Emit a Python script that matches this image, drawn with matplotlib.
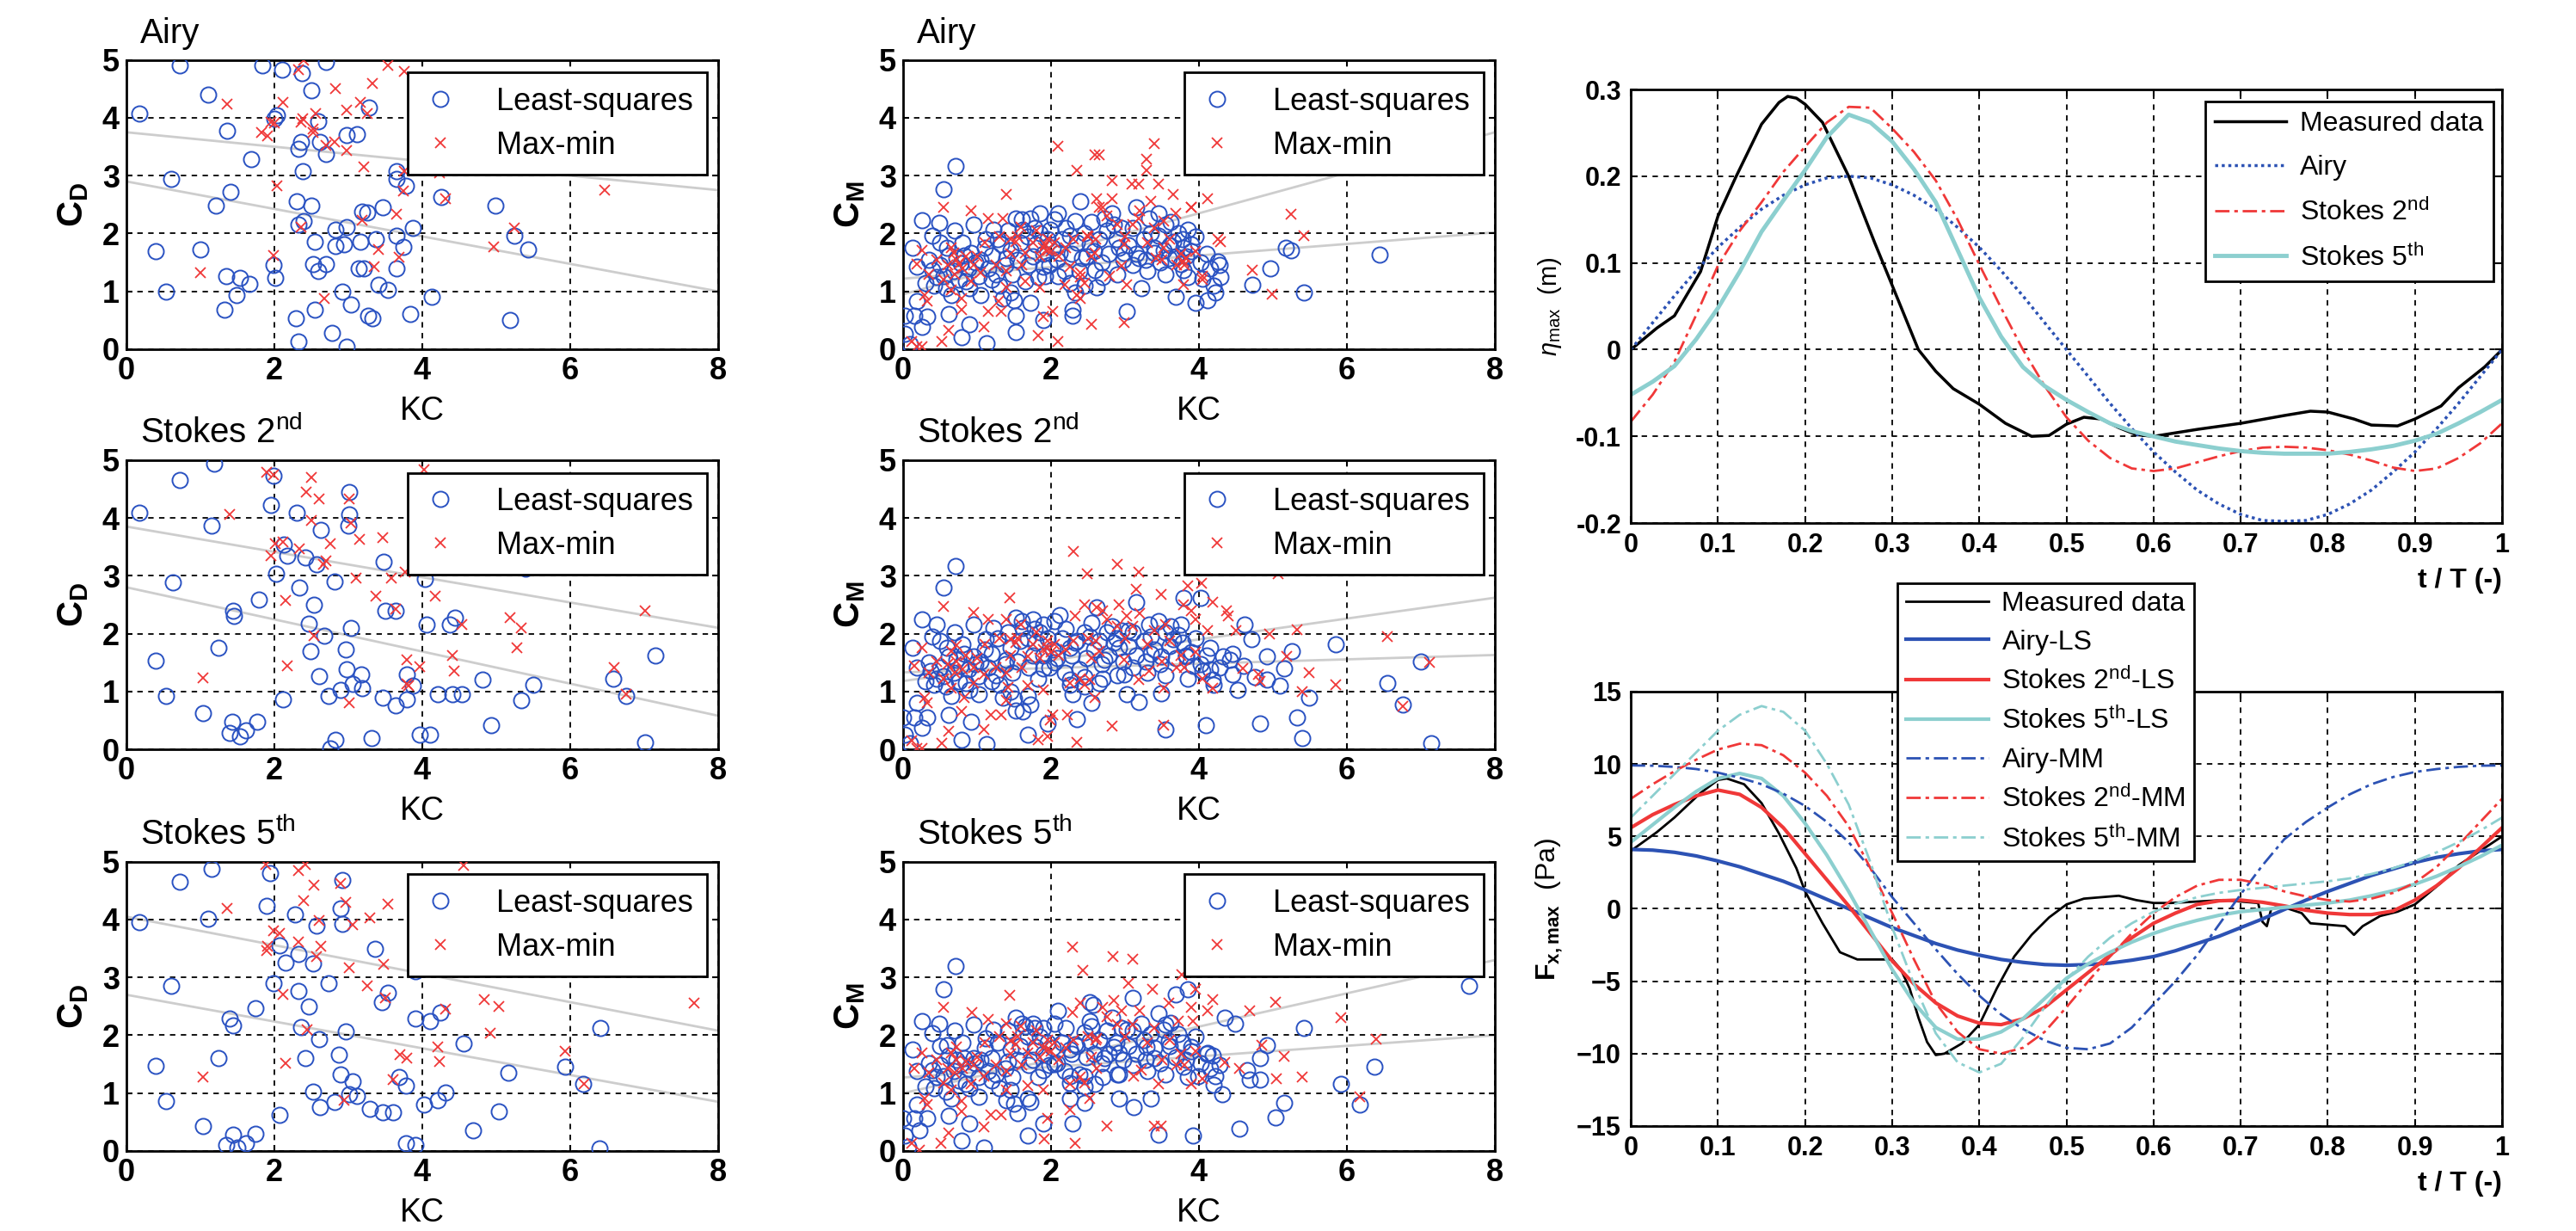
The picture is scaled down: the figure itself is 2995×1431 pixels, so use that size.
import numpy as np
import matplotlib
matplotlib.use("Agg")
import matplotlib.pyplot as plt

plt.rcParams['font.family'] = ['Liberation Sans', 'DejaVu Sans']
plt.rcParams['mathtext.fontset'] = 'custom'
plt.rcParams['mathtext.rm'] = 'Liberation Sans'
plt.rcParams['mathtext.it'] = 'Liberation Sans:italic'
plt.rcParams['mathtext.bf'] = 'Liberation Sans:bold'

# ---------------------------------------------------------------- scatter data
# (KC, coefficient) pairs

CD_AIRY_LS = [(0.17, 4.07), (0.72, 4.90), (1.10, 4.40), (1.36, 3.77), (1.69, 3.28), (0.60, 2.95),
              (1.41, 2.72), (1.21, 2.49), (0.40, 1.69), (1.00, 1.73), (0.53, 1.00), (1.35, 1.26),
              (1.53, 1.23), (1.66, 1.13), (1.49, 0.93), (1.33, 0.69), (1.84, 4.90), (2.10, 4.83),
              (2.37, 4.77), (2.50, 4.47), (2.70, 4.97), (2.04, 4.04), (2.00, 3.98), (2.59, 3.94),
              (2.32, 3.47), (2.36, 3.59), (2.62, 3.59), (2.70, 3.37), (2.98, 3.70), (3.12, 3.71),
              (3.28, 4.18), (2.38, 3.07), (2.30, 2.55), (2.50, 2.48), (2.32, 2.16), (2.40, 2.21),
              (2.55, 1.86), (2.83, 2.06), (2.98, 2.11), (2.83, 1.79), (2.94, 1.81), (3.16, 1.86),
              (3.37, 1.91), (3.19, 2.38), (3.25, 2.36), (3.46, 2.46), (3.65, 1.96), (3.87, 2.09),
              (3.74, 1.77), (2.52, 1.47), (2.70, 1.47), (2.59, 1.35), (3.14, 1.40), (3.21, 1.40),
              (3.65, 1.40), (1.99, 1.45), (2.01, 1.23), (2.92, 1.00), (3.04, 0.77), (3.41, 1.12),
              (3.54, 1.03), (2.55, 0.69), (2.29, 0.53), (3.27, 0.58), (3.33, 0.53), (3.84, 0.61),
              (2.78, 0.28), (2.32, 0.14), (2.98, 0.04), (3.65, 3.07), (3.65, 2.95), (3.78, 2.83),
              (4.13, 0.90), (4.26, 2.63), (4.99, 2.48), (5.24, 1.96), (5.43, 1.72), (5.18, 0.51)]
CD_AIRY_MM = [(1.36, 4.24), (1.00, 1.33), (1.83, 3.74), (1.91, 3.69), (1.95, 3.93), (2.00, 3.91),
              (2.11, 4.27), (2.32, 4.83), (2.40, 5.00), (2.36, 3.93), (2.38, 3.99), (2.56, 4.07),
              (2.52, 3.74), (2.52, 3.81), (2.70, 3.52), (2.83, 4.50), (2.81, 3.59), (2.98, 3.44),
              (2.98, 4.14), (3.16, 4.27), (3.33, 4.60), (3.21, 3.15), (3.25, 4.08), (3.54, 4.91),
              (3.76, 4.80), (3.76, 3.07), (3.74, 2.73), (3.65, 2.33), (3.41, 1.73), (3.68, 1.59),
              (3.35, 1.42), (2.36, 2.11), (1.99, 1.62), (2.04, 2.83), (2.67, 0.88), (3.19, 2.23),
              (4.17, 3.09), (4.23, 3.05), (4.31, 2.60), (4.97, 1.77), (5.24, 2.10), (6.46, 2.75)]

CD_S2_LS = [(0.17, 4.09), (0.72, 4.66), (1.18, 4.94), (1.15, 3.86), (0.63, 2.89), (0.40, 1.53),
            (0.53, 0.93), (1.24, 1.76), (1.03, 0.63), (1.44, 2.40), (1.45, 2.30), (1.79, 2.59),
            (1.43, 0.48), (1.39, 0.28), (1.54, 0.23), (1.62, 0.33), (1.77, 0.47), (1.95, 4.22),
            (1.99, 4.73), (2.02, 3.03), (2.12, 0.86), (2.13, 3.54), (2.17, 3.34), (2.30, 4.09),
            (2.34, 2.80), (2.42, 3.31), (2.57, 3.19), (2.63, 3.79), (2.53, 2.50), (2.46, 2.17),
            (2.67, 1.96), (2.49, 1.70), (2.60, 1.26), (2.81, 2.90), (3.01, 4.45), (3.01, 4.06),
            (3.00, 3.87), (3.03, 2.10), (2.96, 1.72), (2.98, 1.38), (3.17, 1.30), (3.06, 1.13),
            (3.18, 1.05), (2.90, 1.03), (2.73, 0.93), (3.47, 0.90), (3.64, 0.76), (3.79, 0.86),
            (3.79, 1.30), (3.87, 1.10), (3.48, 3.24), (3.50, 2.40), (3.64, 2.40), (2.75, 0.01),
            (2.83, 0.17), (3.31, 0.20), (3.97, 0.26), (4.03, 2.94), (4.06, 2.15), (4.11, 0.25),
            (4.21, 0.95), (4.41, 0.95), (4.54, 0.95), (4.44, 2.27), (4.37, 2.15), (4.81, 1.20),
            (4.93, 0.42), (5.34, 0.85), (5.50, 1.12), (5.39, 3.12), (6.58, 1.22), (6.76, 0.92),
            (7.01, 0.12), (7.15, 1.62)]
CD_S2_MM = [(1.39, 4.06), (1.03, 1.24), (1.90, 4.79), (1.99, 4.75), (1.95, 3.34), (2.01, 3.56),
            (2.11, 3.58), (2.15, 2.57), (2.17, 1.44), (2.34, 3.46), (2.43, 4.45), (2.50, 4.70),
            (2.60, 4.33), (2.50, 3.96), (2.75, 3.56), (2.66, 3.19), (2.70, 3.26), (2.53, 1.97),
            (3.01, 4.33), (3.03, 3.91), (3.15, 3.63), (3.10, 2.96), (3.01, 0.80), (3.47, 3.66),
            (3.37, 2.65), (3.58, 2.96), (3.64, 2.42), (3.79, 1.55), (3.97, 1.43), (3.79, 1.13),
            (3.77, 3.06), (4.02, 4.84), (4.17, 2.65), (4.41, 1.62), (4.43, 1.36), (4.54, 2.15),
            (5.18, 2.27), (5.34, 2.10), (5.28, 1.75), (6.59, 1.42), (6.76, 0.95), (7.01, 2.40),
            (3.81, 1.10)]

CD_S5_LS = [(0.17, 3.96), (0.72, 4.66), (1.15, 4.88), (1.10, 4.01), (0.60, 2.86), (0.40, 1.47),
            (0.53, 0.86), (1.03, 0.43), (1.24, 1.60), (1.40, 2.29), (1.44, 2.17), (1.74, 2.47),
            (1.44, 0.28), (1.35, 0.11), (1.50, 0.06), (1.62, 0.13), (1.74, 0.30), (1.90, 4.23),
            (1.94, 4.80), (1.99, 2.90), (2.07, 0.63), (2.07, 3.56), (2.15, 3.26), (2.28, 4.09),
            (2.33, 3.41), (2.32, 2.77), (2.46, 2.50), (2.36, 2.14), (2.60, 1.94), (2.42, 1.60),
            (2.52, 3.24), (2.57, 3.89), (2.73, 2.90), (2.92, 4.69), (2.90, 4.19), (2.92, 3.92),
            (2.96, 2.07), (2.87, 1.67), (2.90, 1.33), (3.06, 1.21), (3.01, 0.98), (3.12, 0.95),
            (2.52, 1.03), (2.62, 0.76), (2.81, 0.85), (3.29, 0.73), (3.47, 0.67), (3.60, 0.67),
            (3.36, 3.50), (3.45, 2.57), (3.54, 2.74), (3.68, 1.28), (3.78, 1.13), (3.78, 0.13),
            (3.91, 0.11), (3.91, 2.29), (4.02, 0.80), (4.11, 2.25), (4.21, 0.88), (4.31, 1.01),
            (4.24, 2.40), (4.56, 1.86), (4.69, 0.36), (5.04, 0.68), (5.16, 1.35), (5.93, 1.46),
            (6.18, 1.16), (6.41, 2.13), (6.39, 0.05), (3.91, 3.11)]
CD_S5_MM = [(1.36, 4.20), (1.03, 1.28), (1.88, 4.95), (1.90, 3.46), (1.91, 3.54), (1.99, 3.81),
            (2.07, 3.76), (2.11, 2.70), (2.15, 1.51), (2.32, 4.84), (2.42, 4.95), (2.39, 4.33),
            (2.32, 3.61), (2.53, 4.59), (2.60, 3.98), (2.63, 3.54), (2.57, 3.36), (2.44, 2.10),
            (2.90, 4.63), (2.96, 4.30), (3.06, 3.91), (3.01, 3.16), (2.94, 0.88), (3.29, 4.03),
            (3.26, 2.86), (3.48, 3.23), (3.50, 2.64), (3.54, 4.26), (3.60, 1.23), (3.70, 1.67),
            (3.79, 1.60), (4.21, 1.80), (4.23, 1.55), (4.31, 2.45), (4.56, 4.94), (4.84, 2.62),
            (5.04, 2.50), (4.92, 2.03), (5.93, 1.73), (6.19, 1.16), (6.38, 3.15), (7.68, 2.55)]

CM_AIRY_LS = [(0.71, 3.17), (0.55, 2.77), (0.25, 2.23), (0.49, 2.18), (0.39, 1.96), (0.13, 1.76),
              (0.59, 1.76), (0.19, 1.42), (0.39, 1.37), (0.02, 0.58), (0.15, 0.58), (0.02, 0.26),
              (0.25, 0.38), (0.09, 0.09), (0.19, 0.83), (0.32, 0.56), (0.62, 0.61), (0.79, 0.21),
              (0.89, 0.43), (0.65, 0.93), (0.85, 1.17), (0.55, 1.27), (0.72, 1.57), (0.92, 1.67),
              (0.95, 2.16), (1.12, 1.91), (1.22, 2.06), (1.02, 1.27), (1.05, 0.93), (1.13, 0.11),
              (1.35, 0.88), (1.39, 1.57), (1.32, 1.81), (1.52, 2.26), (1.62, 2.06), (1.45, 1.71),
              (1.52, 0.58), (1.52, 0.29), (1.45, 0.98), (1.65, 1.17), (1.72, 2.26), (1.85, 2.35),
              (1.79, 1.81), (1.89, 1.42), (1.92, 1.27), (1.89, 0.51), (1.99, 2.06), (2.09, 2.35),
              (2.12, 1.67), (2.09, 1.27), (2.25, 1.96), (2.32, 2.21), (2.39, 2.55), (2.42, 1.57),
              (2.32, 0.98), (2.29, 0.68), (2.29, 0.58), (2.52, 1.81), (2.59, 1.37), (2.62, 1.07),
              (2.72, 2.26), (2.85, 2.16), (2.92, 1.76), (3.02, 0.66), (2.99, 1.67), (3.15, 2.45),
              (3.22, 1.05), (3.19, 1.57), (3.32, 2.26), (3.39, 1.67), (3.45, 1.96), (3.52, 1.71),
              (3.59, 1.57), (3.69, 0.90), (3.65, 1.86), (3.75, 1.47), (3.79, 1.76), (3.85, 2.06),
              (3.89, 1.81), (3.79, 1.37), (3.95, 0.80), (4.05, 1.22), (4.12, 0.85), (4.22, 0.98),
              (4.25, 1.52), (4.29, 1.25), (4.72, 1.12), (4.97, 1.39), (5.17, 1.76), (5.24, 1.71),
              (5.42, 0.98), (6.44, 1.63),
              # dense core of the cloud
              (0.35, 1.55), (0.45, 1.25), (0.50, 1.45), (0.58, 1.05), (0.62, 1.62), (0.68, 1.35),
              (0.75, 1.20), (0.78, 1.48), (0.82, 1.62), (0.88, 1.40), (0.90, 1.05), (0.98, 1.50),
              (0.42, 1.10), (0.30, 1.15), (0.50, 1.85), (0.80, 1.85), (0.70, 2.05), (1.05, 1.55),
              (1.10, 1.75), (1.15, 1.40), (1.20, 1.62), (1.25, 1.30), (1.28, 1.90), (1.30, 1.10),
              (1.38, 1.45), (1.42, 2.05), (1.48, 1.30), (1.55, 1.55), (1.58, 1.85), (1.60, 2.25),
              (1.68, 1.95), (1.70, 1.45), (1.75, 1.60), (1.78, 2.10), (1.82, 1.25), (1.85, 2.00),
              (1.90, 1.65), (1.95, 1.90), (1.98, 1.45), (1.20, 1.20), (1.50, 0.85), (1.72, 0.80),
              (2.02, 1.75), (2.05, 2.25), (2.08, 1.55), (2.15, 1.90), (2.18, 1.35), (2.20, 2.10),
              (2.28, 1.65), (2.35, 1.85), (2.38, 1.35), (2.45, 2.00), (2.48, 1.60), (2.55, 2.20),
              (2.58, 1.70), (2.65, 1.90), (2.68, 1.50), (2.75, 2.05), (2.78, 1.65), (2.82, 2.35),
              (2.88, 1.90), (2.95, 2.10), (2.98, 1.55), (2.25, 1.15), (2.45, 1.10), (2.70, 1.25),
              (2.90, 1.30), (3.05, 1.80), (3.10, 2.10), (3.15, 1.65), (3.25, 1.90), (3.28, 1.55),
              (3.35, 2.00), (3.40, 1.75), (3.48, 1.50), (3.55, 2.15), (3.60, 1.80), (3.68, 1.60),
              (3.72, 2.00), (3.78, 1.90), (3.82, 1.60), (3.90, 1.70), (3.95, 1.95), (3.30, 1.35),
              (3.55, 1.30), (3.85, 1.25), (3.10, 1.45), (3.45, 2.35), (3.62, 2.20), (4.02, 1.50),
              (4.10, 1.65), (4.15, 1.40), (4.20, 1.10), (4.28, 1.45)]
CM_AIRY_MM = [(0.19, 0.04), (0.25, 0.04), (0.12, 0.14), (0.29, 0.93), (0.32, 0.83), (0.25, 1.71),
              (0.19, 1.47), (0.55, 2.45), (0.52, 0.14), (0.62, 0.33), (0.65, 1.02), (0.69, 1.67),
              (0.65, 1.76), (0.75, 1.47), (0.79, 0.68), (0.79, 0.88), (0.92, 2.40), (0.92, 1.17),
              (1.05, 1.32), (1.09, 0.38), (1.15, 0.66), (1.15, 2.26), (1.39, 2.67), (1.29, 0.83),
              (1.32, 0.66), (1.39, 1.07), (1.35, 2.26), (1.45, 1.91), (1.52, 1.86), (1.59, 2.11),
              (1.65, 1.67), (1.65, 1.17), (1.82, 0.24), (1.85, 1.07), (1.89, 0.56), (1.92, 1.81),
              (1.95, 1.71), (2.09, 3.51), (2.09, 0.14), (2.02, 0.66), (2.19, 1.12), (2.25, 1.42),
              (2.35, 3.09), (2.35, 0.93), (2.39, 1.32), (2.39, 0.88), (2.49, 1.96), (2.55, 0.43),
              (2.59, 3.36), (2.65, 3.36), (2.62, 2.60), (2.65, 2.45), (2.59, 1.67), (2.79, 1.27),
              (2.82, 2.92), (2.82, 2.60), (2.99, 1.81), (3.02, 1.12), (2.99, 0.46), (2.95, 1.44),
              (3.09, 2.85), (3.19, 2.85), (3.19, 2.26), (3.29, 3.29), (3.29, 3.09), (3.39, 3.56),
              (3.35, 2.55), (3.45, 2.85), (3.52, 2.21), (3.52, 1.76), (3.42, 1.57), (3.65, 2.67),
              (3.69, 2.35), (3.79, 1.12), (3.79, 1.52), (3.89, 2.45), (3.82, 1.57), (4.12, 2.60),
              (4.25, 1.91), (4.29, 1.86), (4.05, 1.27), (4.72, 1.37), (4.99, 0.95), (5.24, 2.33),
              (5.42, 1.96),
              (0.35, 1.30), (0.45, 1.55), (0.55, 1.20), (0.60, 1.45), (0.70, 1.30), (0.72, 1.55),
              (0.80, 1.40), (0.85, 1.60), (0.95, 1.45), (1.00, 1.60), (1.10, 1.85), (1.25, 1.45),
              (1.30, 1.95), (1.40, 1.35), (1.45, 1.65), (1.55, 1.95), (1.60, 1.45), (1.75, 1.85),
              (1.80, 2.05), (1.85, 1.60), (1.90, 1.75), (1.95, 1.90), (2.00, 1.70), (2.05, 1.85),
              (2.10, 1.60), (2.20, 1.75), (2.30, 1.90), (2.40, 1.25), (2.45, 1.15), (2.50, 1.95),
              (2.55, 1.60), (2.60, 1.90), (2.70, 2.45), (2.75, 2.30), (2.90, 2.15), (3.00, 1.95),
              (3.10, 2.15), (3.20, 2.40), (3.30, 1.85), (3.40, 2.10), (3.50, 1.55), (3.60, 1.90),
              (3.70, 1.45), (3.75, 1.65), (3.80, 1.45), (3.90, 2.45), (3.95, 1.70), (4.05, 1.20)]

CM_S2_LS = [(0.71, 3.17), (0.55, 2.79), (0.25, 2.25), (0.45, 2.15), (0.39, 1.95), (0.13, 1.75),
            (0.59, 1.75), (0.19, 1.42), (0.37, 1.35), (0.00, 0.55), (0.15, 0.55), (0.02, 0.25),
            (0.25, 0.37), (0.09, 0.10), (0.19, 0.80), (0.32, 0.55), (0.62, 0.60), (0.79, 0.17),
            (0.92, 0.47), (0.65, 0.92), (0.85, 1.15), (0.55, 1.27), (0.72, 1.55), (0.95, 1.60),
            (0.95, 2.15), (1.12, 1.90), (1.22, 2.10), (1.02, 1.27), (1.02, 0.95), (1.13, 0.09),
            (1.35, 0.90), (1.39, 1.55), (1.45, 1.75), (1.52, 2.27), (1.62, 2.10), (1.52, 0.67),
            (1.62, 0.65), (1.69, 0.25), (1.45, 1.00), (1.69, 0.92), (1.75, 2.25), (1.89, 2.15),
            (1.79, 1.85), (1.89, 1.40), (1.95, 0.45), (2.12, 2.32), (2.25, 1.75), (2.05, 1.50),
            (2.25, 1.20), (2.32, 1.85), (2.29, 0.95), (2.35, 0.52), (2.52, 1.95), (2.45, 1.25),
            (2.62, 2.45), (2.65, 1.15), (2.55, 0.80), (2.72, 1.55), (2.85, 1.85), (2.92, 1.75),
            (2.99, 1.30), (3.02, 0.95), (3.19, 0.82), (3.05, 2.05), (3.15, 2.55), (3.32, 2.15),
            (3.35, 1.65), (3.49, 1.60), (3.49, 0.97), (3.55, 0.35), (3.65, 1.90), (3.75, 2.15),
            (3.79, 2.62), (3.82, 1.60), (3.92, 1.45), (4.02, 2.62), (4.05, 1.35), (4.09, 0.42),
            (4.15, 1.75), (4.19, 1.20), (4.32, 1.60), (4.42, 1.55), (4.45, 1.30), (4.52, 1.02),
            (4.62, 2.15), (4.71, 1.90), (4.82, 0.45), (4.92, 1.20), (4.92, 1.60), (5.09, 1.10),
            (5.15, 1.40), (5.25, 1.70), (5.32, 0.55), (5.39, 0.20), (5.49, 0.90), (5.85, 1.82),
            (6.55, 1.15), (6.75, 0.77), (7.00, 1.52), (7.14, 0.10),
            (0.35, 1.50), (0.45, 1.22), (0.50, 1.42), (0.58, 1.08), (0.62, 1.60), (0.68, 1.32),
            (0.75, 1.18), (0.78, 1.45), (0.82, 1.65), (0.88, 1.38), (0.90, 1.02), (0.98, 1.48),
            (0.42, 1.12), (0.30, 1.18), (0.50, 1.88), (0.80, 1.82), (0.70, 2.02), (1.05, 1.52),
            (1.10, 1.72), (1.15, 1.42), (1.20, 1.65), (1.25, 1.28), (1.28, 1.92), (1.30, 1.12),
            (1.38, 1.48), (1.42, 2.02), (1.48, 1.32), (1.55, 1.52), (1.58, 1.88), (1.60, 2.22),
            (1.68, 1.92), (1.70, 1.42), (1.75, 1.62), (1.78, 2.08), (1.82, 1.22), (1.85, 2.02),
            (1.90, 1.62), (1.95, 1.92), (1.98, 1.42), (1.20, 1.18), (1.50, 0.88), (1.72, 0.78),
            (2.02, 1.72), (2.05, 2.22), (2.08, 1.58), (2.15, 1.92), (2.18, 1.32), (2.20, 2.08),
            (2.28, 1.62), (2.35, 1.88), (2.38, 1.38), (2.45, 2.02), (2.48, 1.58), (2.55, 2.18),
            (2.58, 1.72), (2.65, 1.88), (2.68, 1.48), (2.75, 2.02), (2.78, 1.62), (2.82, 2.12),
            (2.88, 1.92), (2.95, 2.05), (2.98, 1.52), (2.25, 1.12), (2.45, 1.08), (2.70, 1.22),
            (2.90, 1.28), (3.05, 1.78), (3.10, 2.02), (3.15, 1.62), (3.25, 1.88), (3.28, 1.52),
            (3.35, 1.95), (3.40, 1.72), (3.48, 1.48), (3.55, 2.02), (3.60, 1.78), (3.68, 1.58),
            (3.72, 1.98), (3.78, 1.85), (3.82, 1.62), (3.90, 1.68), (3.95, 1.92), (3.30, 1.32),
            (3.55, 1.28), (3.85, 1.22), (3.10, 1.42), (3.45, 2.22), (3.62, 2.12), (4.02, 1.48),
            (4.10, 1.62), (4.15, 1.38), (4.20, 1.12), (4.28, 1.42), (4.45, 1.65), (4.60, 1.45),
            (4.75, 1.25)]
CM_S2_MM = [(0.19, 0.02), (0.25, 0.02), (0.12, 0.15), (0.29, 0.90), (0.32, 0.80), (0.25, 1.75),
            (0.15, 1.45), (0.55, 2.47), (0.52, 0.10), (0.62, 0.32), (0.65, 1.05), (0.65, 1.70),
            (0.72, 1.80), (0.82, 0.90), (0.79, 0.65), (0.95, 2.37), (0.95, 1.15), (1.09, 1.30),
            (1.09, 0.35), (1.19, 0.60), (1.15, 2.25), (1.44, 2.62), (1.32, 0.60), (1.39, 0.85),
            (1.42, 1.07), (1.39, 2.25), (1.45, 1.90), (1.52, 1.85), (1.59, 2.15), (1.69, 1.60),
            (1.69, 1.10), (1.82, 0.17), (1.89, 1.02), (1.95, 0.22), (1.95, 1.75), (1.99, 0.50),
            (2.30, 3.42), (2.35, 0.12), (2.02, 0.60), (2.22, 0.60), (2.25, 1.15), (2.32, 2.30),
            (2.49, 3.04), (2.45, 2.50), (2.52, 1.20), (2.59, 0.90), (2.62, 2.45), (2.65, 1.70),
            (2.82, 0.40), (2.90, 3.19), (2.92, 2.50), (3.02, 2.30), (2.99, 1.55), (3.15, 2.77),
            (3.19, 3.07), (3.19, 1.20), (3.32, 1.35), (3.49, 2.67), (3.52, 0.42), (3.55, 2.15),
            (3.52, 1.05), (3.79, 2.50), (3.85, 2.82), (4.04, 2.87), (3.95, 2.25), (4.12, 2.05),
            (4.19, 2.55), (4.19, 1.05), (4.37, 2.40), (4.39, 2.30), (4.59, 1.40), (4.82, 1.17),
            (4.95, 2.00), (5.07, 3.04), (5.19, 1.60), (5.32, 2.07), (5.39, 1.00), (5.49, 1.32),
            (5.85, 1.12), (6.55, 1.95), (6.75, 0.75), (7.12, 1.50),
            (0.35, 1.32), (0.45, 1.52), (0.55, 1.22), (0.60, 1.48), (0.70, 1.32), (0.72, 1.52),
            (0.80, 1.38), (0.85, 1.62), (0.95, 1.42), (1.00, 1.58), (1.10, 1.82), (1.25, 1.42),
            (1.30, 1.92), (1.40, 1.32), (1.45, 1.62), (1.55, 1.92), (1.60, 1.42), (1.75, 1.82),
            (1.80, 2.02), (1.85, 1.58), (1.90, 1.72), (1.95, 1.88), (2.00, 1.68), (2.05, 1.82),
            (2.10, 1.62), (2.20, 1.72), (2.30, 1.88), (2.40, 1.22), (2.45, 1.12), (2.50, 1.92),
            (2.55, 1.58), (2.60, 1.88), (2.70, 2.40), (2.75, 2.25), (2.90, 2.12), (3.00, 1.92),
            (3.10, 2.12), (3.20, 2.35), (3.30, 1.82), (3.40, 2.05), (3.50, 1.52), (3.60, 1.88),
            (3.70, 1.42), (3.75, 1.62), (3.80, 1.42), (3.90, 2.40), (3.95, 1.68), (4.05, 1.22),
            (4.50, 2.05), (4.80, 1.30)]

CM_S5_LS = [(0.71, 3.20), (0.55, 2.80), (0.25, 2.25), (0.49, 2.20), (0.39, 2.03), (0.13, 1.75),
            (0.59, 1.83), (0.19, 1.38), (0.39, 1.40), (0.00, 0.56), (0.15, 0.56), (0.02, 0.26),
            (0.22, 0.36), (0.07, 0.08), (0.19, 0.81), (0.32, 0.56), (0.62, 0.61), (0.79, 0.18),
            (0.89, 0.48), (0.65, 0.91), (0.85, 1.16), (0.55, 1.30), (0.72, 1.58), (0.95, 1.60),
            (0.95, 2.18), (1.12, 1.95), (1.22, 2.10), (1.02, 1.28), (1.02, 0.93), (1.09, 0.06),
            (1.39, 0.88), (1.42, 1.55), (1.45, 1.75), (1.52, 2.30), (1.65, 2.15), (1.55, 0.66),
            (1.69, 0.26), (1.45, 1.06), (1.69, 0.91), (1.75, 2.20), (1.89, 2.13), (1.79, 1.80),
            (1.89, 1.40), (1.89, 0.48), (2.09, 2.43), (2.25, 1.75), (2.05, 1.50), (2.25, 1.30),
            (2.32, 1.85), (2.25, 0.91), (2.29, 0.48), (2.52, 1.90), (2.45, 1.30), (2.52, 2.57),
            (2.57, 2.52), (2.52, 2.25), (2.59, 1.16), (2.45, 0.83), (2.72, 1.60), (2.85, 1.80),
            (2.92, 1.70), (2.92, 1.33), (2.92, 0.91), (3.12, 0.76), (3.02, 2.10), (3.11, 2.65),
            (3.22, 2.20), (3.29, 1.80), (3.39, 1.60), (3.35, 0.91), (3.45, 0.28), (3.52, 2.10),
            (3.59, 1.90), (3.69, 2.70), (3.85, 2.80), (3.79, 1.45), (3.89, 1.80), (3.99, 1.30),
            (3.92, 0.26), (4.12, 1.70), (4.22, 1.30), (4.19, 1.65), (4.31, 0.98), (4.35, 2.30),
            (4.49, 2.20), (4.55, 0.38), (4.65, 1.40), (4.69, 1.23), (4.82, 1.23), (4.82, 1.60),
            (4.92, 1.83), (5.04, 0.58), (5.15, 0.83), (5.42, 2.13), (5.92, 1.16), (6.17, 0.81),
            (6.37, 1.45), (7.65, 2.86),
            (0.35, 1.52), (0.45, 1.28), (0.50, 1.48), (0.58, 1.02), (0.62, 1.65), (0.68, 1.38),
            (0.75, 1.22), (0.78, 1.50), (0.82, 1.60), (0.88, 1.42), (0.90, 1.08), (0.98, 1.52),
            (0.42, 1.08), (0.30, 1.12), (0.50, 1.82), (0.80, 1.88), (0.70, 2.08), (1.05, 1.58),
            (1.10, 1.78), (1.15, 1.38), (1.20, 1.60), (1.25, 1.32), (1.28, 1.88), (1.30, 1.08),
            (1.38, 1.42), (1.42, 2.08), (1.48, 1.28), (1.55, 1.58), (1.58, 1.82), (1.60, 2.20),
            (1.68, 1.98), (1.70, 1.48), (1.75, 1.58), (1.78, 2.12), (1.82, 1.28), (1.85, 1.98),
            (1.90, 1.68), (1.95, 1.88), (1.98, 1.48), (1.20, 1.22), (1.50, 0.82), (1.72, 0.84),
            (2.02, 1.78), (2.05, 2.20), (2.08, 1.52), (2.15, 1.88), (2.18, 1.38), (2.20, 2.12),
            (2.28, 1.68), (2.35, 1.82), (2.38, 1.32), (2.45, 2.05), (2.48, 1.62), (2.55, 2.15),
            (2.58, 1.68), (2.65, 1.92), (2.68, 1.52), (2.75, 2.08), (2.78, 1.68), (2.82, 2.30),
            (2.88, 1.88), (2.95, 2.12), (2.98, 1.58), (2.25, 1.18), (2.45, 1.12), (2.70, 1.28),
            (2.90, 1.32), (3.05, 1.82), (3.10, 2.08), (3.15, 1.68), (3.25, 1.92), (3.28, 1.58),
            (3.35, 2.02), (3.40, 1.78), (3.48, 1.52), (3.55, 2.18), (3.60, 1.82), (3.68, 1.62),
            (3.72, 2.02), (3.78, 1.88), (3.82, 1.58), (3.90, 1.72), (3.95, 1.98), (3.30, 1.38),
            (3.55, 1.32), (3.85, 1.28), (3.10, 1.48), (3.45, 2.38), (3.62, 2.22), (4.02, 1.52),
            (4.10, 1.68), (4.15, 1.42), (4.20, 1.15), (4.28, 1.48)]
CM_S5_MM = [(0.22, 0.01), (0.12, 0.13), (0.29, 0.91), (0.32, 0.81), (0.25, 1.70), (0.15, 1.43),
            (0.55, 2.48), (0.51, 0.13), (0.62, 0.31), (0.65, 1.06), (0.65, 1.70), (0.72, 1.80),
            (0.79, 0.68), (0.79, 0.86), (0.93, 2.40), (0.92, 1.16), (1.09, 1.30), (1.09, 0.41),
            (1.19, 0.63), (1.15, 2.28), (1.44, 2.69), (1.32, 0.63), (1.39, 1.06), (1.39, 2.20),
            (1.45, 1.90), (1.52, 1.85), (1.59, 2.15), (1.69, 1.70), (1.69, 1.13), (1.91, 0.21),
            (1.89, 1.06), (1.95, 1.75), (1.95, 0.56), (2.29, 3.52), (2.32, 0.13), (2.25, 0.71),
            (2.25, 1.16), (2.29, 2.40), (2.43, 3.12), (2.39, 2.55), (2.52, 0.91), (2.62, 1.95),
            (2.62, 1.43), (2.75, 0.43), (2.84, 3.36), (3.11, 3.32), (2.85, 2.60), (2.95, 2.43),
            (3.05, 2.90), (3.12, 1.30), (3.22, 1.40), (3.37, 2.80), (3.39, 0.43), (3.49, 0.43),
            (3.45, 1.16), (3.59, 2.55), (3.72, 2.25), (3.77, 3.05), (3.95, 2.80), (3.92, 2.25),
            (3.89, 1.16), (4.12, 2.43), (4.19, 2.62), (4.35, 1.53), (4.55, 1.43), (4.69, 2.43),
            (4.85, 1.83), (5.04, 2.57), (5.05, 1.25), (5.15, 1.63), (5.40, 1.28), (5.92, 2.30),
            (6.17, 0.93), (6.40, 1.93),
            (0.35, 1.35), (0.45, 1.58), (0.55, 1.18), (0.60, 1.42), (0.70, 1.35), (0.72, 1.58),
            (0.80, 1.42), (0.85, 1.55), (0.95, 1.48), (1.00, 1.62), (1.10, 1.88), (1.25, 1.48),
            (1.30, 1.98), (1.40, 1.38), (1.45, 1.68), (1.55, 1.98), (1.60, 1.48), (1.75, 1.88),
            (1.80, 2.08), (1.85, 1.62), (1.90, 1.78), (1.95, 1.92), (2.00, 1.72), (2.05, 1.88),
            (2.10, 1.58), (2.20, 1.78), (2.30, 1.92), (2.40, 1.28), (2.45, 1.18), (2.50, 1.98),
            (2.55, 1.62), (2.60, 1.92), (2.70, 2.48), (2.75, 2.32), (2.90, 2.18), (3.00, 1.98),
            (3.10, 2.18), (3.20, 2.42), (3.30, 1.88), (3.40, 2.12), (3.50, 1.58), (3.60, 1.92),
            (3.70, 1.48), (3.75, 1.68), (3.80, 1.48), (3.90, 2.48), (3.95, 1.72), (4.05, 1.25)]

# light grey trend lines: value at KC = 0 and KC = 8
KC_ENDS = [0, 8]
FIT_CD_AIRY = [(3.75, 2.75), (2.90, 1.00)]
FIT_CD_S2 = [(3.85, 2.10), (2.80, 0.58)]
FIT_CD_S5 = [(4.05, 2.08), (2.70, 0.85)]
FIT_CM_AIRY = [(0.95, 3.75), (1.22, 2.02)]
FIT_CM_S2 = [(1.18, 2.62), (1.33, 1.63)]
FIT_CM_S5 = [(1.00, 3.30), (1.27, 2.00)]

# ---------------------------------------------------------------- time series
# model curves are read every 0.025 of a period
T_GRID = np.round(np.arange(41) * 0.025, 3)

ETA_MEAS_T = [0, 0.03, 0.05, 0.08, 0.10, 0.12, 0.15, 0.17, 0.18, 0.19, 0.20, 0.22, 0.25, 0.28,
              0.30, 0.33, 0.35, 0.37, 0.40, 0.43, 0.46, 0.48, 0.50, 0.52, 0.54, 0.56, 0.58,
              0.60, 0.65, 0.70, 0.75, 0.78, 0.80, 0.83, 0.85, 0.88, 0.90, 0.93, 0.95, 0.98, 1.0]
ETA_MEAS = [0, 0.025, 0.039, 0.09, 0.154, 0.198, 0.26, 0.285, 0.292, 0.29, 0.283, 0.262, 0.20,
            0.123, 0.074, 0.0, -0.025, -0.045, -0.063, -0.085, -0.10, -0.099, -0.086, -0.078,
            -0.08, -0.09, -0.098, -0.10, -0.092, -0.085, -0.076, -0.071, -0.072, -0.08, -0.087,
            -0.088, -0.08, -0.065, -0.044, -0.02, 0.0]
ETA_AIRY = [0, 0.031, 0.062, 0.091, 0.118, 0.141, 0.162, 0.178, 0.19, 0.198, 0.2, 0.198, 0.19,
            0.178, 0.162, 0.141, 0.118, 0.091, 0.062, 0.031, 0, -0.031, -0.062, -0.091, -0.118,
            -0.141, -0.162, -0.178, -0.19, -0.197, -0.198, -0.197, -0.19, -0.178, -0.162,
            -0.141, -0.118, -0.091, -0.062, -0.031, 0]
ETA_S2 = [-0.083, -0.052, -0.014, 0.04, 0.097, 0.137, 0.17, 0.205, 0.234, 0.262, 0.28, 0.279,
          0.255, 0.228, 0.195, 0.15, 0.098, 0.048, 0.0, -0.042, -0.078, -0.105, -0.125, -0.137,
          -0.14, -0.137, -0.13, -0.123, -0.117, -0.113, -0.112, -0.113, -0.116, -0.121, -0.128,
          -0.136, -0.14, -0.137, -0.125, -0.108, -0.085]
ETA_S5 = [-0.052, -0.037, -0.019, 0.012, 0.048, 0.09, 0.136, 0.172, 0.207, 0.245, 0.271, 0.262,
          0.24, 0.208, 0.17, 0.115, 0.06, 0.015, -0.02, -0.042, -0.058, -0.072, -0.085, -0.094,
          -0.10, -0.106, -0.11, -0.114, -0.117, -0.119, -0.12, -0.12, -0.12, -0.118, -0.115,
          -0.111, -0.105, -0.097, -0.085, -0.072, -0.058]

F_MEAS_T = [0, 0.03, 0.05, 0.08, 0.10, 0.11, 0.13, 0.15, 0.17, 0.19, 0.20, 0.22, 0.24, 0.26,
            0.28, 0.30, 0.31, 0.32, 0.33, 0.34, 0.35, 0.36, 0.38, 0.40, 0.42, 0.44, 0.46, 0.48,
            0.50, 0.52, 0.54, 0.56, 0.58, 0.60, 0.62, 0.65, 0.68, 0.70, 0.72, 0.725, 0.73,
            0.735, 0.74, 0.75, 0.77, 0.78, 0.80, 0.82, 0.83, 0.84, 0.86, 0.88, 0.90, 0.93,
            0.95, 0.98, 1.0]
F_MEAS = [4.0, 5.3, 6.3, 8.0, 8.9, 9.0, 8.6, 7.3, 5.2, 2.8, 1.2, -1.0, -3.0, -3.5, -3.5, -3.5,
          -4.2, -5.5, -7.5, -9.2, -10.1, -10.0, -9.3, -8.0, -5.5, -3.3, -1.8, -0.6, 0.3, 0.7,
          0.8, 0.9, 0.6, 0.4, 0.4, 0.5, 0.6, 0.5, 0.4, -0.9, -1.2, 0.0, 0.1, 0.1, -0.3, -1.0,
          -1.1, -1.2, -1.8, -1.2, -0.5, -0.2, 0.3, 1.8, 3.0, 4.2, 5.0]
F_AIRY_LS = [4.1, 4.05, 3.9, 3.65, 3.3, 2.9, 2.4, 1.9, 1.3, 0.65, 0.0, -0.65, -1.3, -1.85, -2.4,
             -2.85, -3.2, -3.5, -3.7, -3.85, -3.9, -3.85, -3.75, -3.55, -3.3, -2.9, -2.4, -1.9,
             -1.3, -0.7, -0.05, 0.6, 1.2, 1.75, 2.3, 2.75, 3.2, 3.55, 3.8, 4.0, 4.1]
F_S2_LS = [5.6, 6.5, 7.2, 7.8, 8.2, 7.9, 7.0, 5.6, 3.8, 2.0, 0.2, -1.7, -3.6, -5.2, -6.5, -7.4,
           -7.9, -8.0, -7.6, -6.8, -5.6, -4.4, -3.2, -2.0, -1.0, -0.3, 0.3, 0.55, 0.6, 0.45, 0.2,
           -0.1, -0.3, -0.4, -0.4, -0.15, 0.6, 1.6, 2.8, 4.2, 5.6]
F_S5_LS = [4.6, 5.8, 7.0, 8.1, 9.0, 9.35, 9.0, 7.8, 5.9, 3.7, 1.2, -1.5, -4.2, -6.5, -8.2, -9.0,
           -9.0, -8.5, -7.6, -6.2, -4.8, -3.8, -3.0, -2.3, -1.7, -1.2, -0.8, -0.45, -0.2, -0.05,
           0.1, 0.25, 0.4, 0.6, 0.9, 1.25, 1.7, 2.25, 2.9, 3.6, 4.4]
F_AIRY_MM = [9.9, 9.88, 9.8, 9.65, 9.4, 9.05, 8.6, 7.95, 7.1, 6.0, 4.6, 2.8, 0.8, -1.0, -2.8,
             -4.5, -6.0, -7.3, -8.3, -9.1, -9.6, -9.7, -9.3, -8.2, -6.6, -5.0, -3.2, -1.1, 1.0,
             3.0, 4.8, 6.0, 7.0, 7.9, 8.6, 9.1, 9.45, 9.65, 9.8, 9.88, 9.9]
F_S2_MM = [7.6, 8.6, 9.5, 10.3, 11.0, 11.4, 11.3, 10.6, 9.4, 7.8, 5.7, 2.8, -0.3, -3.5, -6.5,
           -8.5, -9.7, -10.0, -9.6, -8.5, -6.8, -5.0, -3.3, -1.7, -0.3, 0.8, 1.6, 2.0, 2.0, 1.7,
           1.2, 0.85, 0.6, 0.5, 0.7, 1.1, 1.8, 2.9, 4.4, 6.0, 7.6]
F_S5_MM = [6.3, 7.8, 9.3, 10.8, 12.3, 13.4, 14.0, 13.6, 12.3, 10.0, 7.2, 3.2, -1.3, -5.2, -8.6,
           -10.6, -11.3, -10.7, -8.9, -6.8, -4.9, -3.3, -2.0, -1.0, -0.2, 0.35, 0.8, 1.1, 1.3,
           1.45, 1.6, 1.75, 1.9, 2.1, 2.4, 2.8, 3.3, 3.9, 4.6, 5.4, 6.3]

BLUE = '#2a52c2'
RED = '#f03838'
CYAN = '#8ccfcf'
LINE_BLUE = '#2c52b4'
GRID = dict(color='black', linestyle=(0, (3.5, 3.5)), linewidth=1.3)
T_LABELS = ['0', '0.1', '0.2', '0.3', '0.4', '0.5', '0.6', '0.7', '0.8', '0.9', '1']


def bold_ticks(ax, size):
    for lab in ax.get_xticklabels() + ax.get_yticklabels():
        lab.set_fontsize(size)
        lab.set_fontweight('bold')


def scatter_panel(ax, ls, mm, fits, ylabel, title):
    for a, b in fits:
        ax.plot(KC_ENDS, [a, b], color='#cdcdcd', lw=2, zorder=1)
    ls = np.array(ls)
    mm = np.array(mm)
    ax.plot(ls[:, 0], ls[:, 1], 'o', mfc='none', mec=BLUE, ms=13, mew=1.4,
            label='Least-squares', zorder=3)
    ax.plot(mm[:, 0], mm[:, 1], 'x', color=RED, ms=8, mew=1.3, label='Max-min', zorder=3)
    ax.set_xlim(0, 8)
    ax.set_ylim(0, 5)
    ax.set_xticks([0, 2, 4, 6, 8])
    ax.set_yticks([0, 1, 2, 3, 4, 5])
    ax.grid(True, **GRID)
    ax.tick_params(direction='in', length=5, width=1.5, top=True, right=True, pad=6)
    bold_ticks(ax, 26)
    for sp in ax.spines.values():
        sp.set_linewidth(2)
    ax.set_xlabel('KC', fontsize=27, labelpad=8)
    ax.set_ylabel(ylabel, fontsize=30, labelpad=10)
    ax.text(0.023, 1.035, title, transform=ax.transAxes, fontsize=29, ha='left', va='bottom')
    leg = ax.legend(loc='upper right', bbox_to_anchor=(0.981, 0.956), borderaxespad=0,
                    fontsize=26, fancybox=False, framealpha=1, edgecolor='black',
                    handlelength=1.2, handletextpad=1.2, borderpad=0.45, labelspacing=0.45)
    leg.get_frame().set_linewidth(2)


fig = plt.figure(figsize=(29.95, 14.31), dpi=100)

col_x = [0.0491, 0.3506]
row_y = [0.7163, 0.3913, 0.0650]
w, h = 0.2297, 0.2350
titles = ['Airy', r'Stokes 2$^{\mathrm{nd}}$', r'Stokes 5$^{\mathrm{th}}$']
cd_sets = [(CD_AIRY_LS, CD_AIRY_MM, FIT_CD_AIRY), (CD_S2_LS, CD_S2_MM, FIT_CD_S2),
           (CD_S5_LS, CD_S5_MM, FIT_CD_S5)]
cm_sets = [(CM_AIRY_LS, CM_AIRY_MM, FIT_CM_AIRY), (CM_S2_LS, CM_S2_MM, FIT_CM_S2),
           (CM_S5_LS, CM_S5_MM, FIT_CM_S5)]

for r in range(3):
    ax = fig.add_axes([col_x[0], row_y[r], w, h])
    scatter_panel(ax, *cd_sets[r], r'$\mathbf{C_D}$', titles[r])
    ax = fig.add_axes([col_x[1], row_y[r], w, h])
    scatter_panel(ax, *cm_sets[r], r'$\mathbf{C_M}$', titles[r])

# ---- wave elevation
ax1 = fig.add_axes([0.6331, 0.5751, 0.3382, 0.3522])
ax1.plot(ETA_MEAS_T, ETA_MEAS, color='black', lw=2.5, label='Measured data')
ax1.plot(T_GRID, ETA_AIRY, color=LINE_BLUE, lw=2.5, ls=(0, (1, 1.2)), label='Airy')
ax1.plot(T_GRID, ETA_S2, color=RED, lw=2, ls=(0, (6, 2, 1.5, 2)), label=r'Stokes 2$^{\mathrm{nd}}$')
ax1.plot(T_GRID, ETA_S5, color=CYAN, lw=3.5, label=r'Stokes 5$^{\mathrm{th}}$')
ax1.set_xlim(0, 1)
ax1.set_ylim(-0.2, 0.3)
ax1.set_xticks(np.arange(0, 1.01, 0.1))
ax1.set_xticklabels(T_LABELS)
ax1.set_yticks([-0.2, -0.1, 0, 0.1, 0.2, 0.3])
ax1.set_yticklabels(['-0.2', '-0.1', '0', '0.1', '0.2', '0.3'])
ax1.set_ylabel(r'$\eta_{\mathrm{max}}$  (m)', fontsize=21, labelpad=10)
ax1.set_xlabel('t / T (-)', fontsize=23, fontweight='bold', loc='right', labelpad=8)
leg1 = ax1.legend(loc='upper right', bbox_to_anchor=(0.990, 0.972), borderaxespad=0,
                  fontsize=23, fancybox=False, framealpha=1, edgecolor='black',
                  handlelength=2.6, handletextpad=0.5, borderpad=0.35, labelspacing=0.65)
leg1.get_frame().set_linewidth(2)

# ---- in-line force
ax2 = fig.add_axes([0.6331, 0.0853, 0.3382, 0.3529])
ax2.plot(F_MEAS_T, F_MEAS, color='black', lw=2, label='Measured data')
ax2.plot(T_GRID, F_AIRY_LS, color=LINE_BLUE, lw=3, label='Airy-LS')
ax2.plot(T_GRID, F_S2_LS, color=RED, lw=3, label=r'Stokes 2$^{\mathrm{nd}}$-LS')
ax2.plot(T_GRID, F_S5_LS, color=CYAN, lw=3, label=r'Stokes 5$^{\mathrm{th}}$-LS')
dashdot = (0, (6, 2, 1.5, 2))
ax2.plot(T_GRID, F_AIRY_MM, color=LINE_BLUE, lw=2, ls=dashdot, label='Airy-MM')
ax2.plot(T_GRID, F_S2_MM, color=RED, lw=2, ls=dashdot, label=r'Stokes 2$^{\mathrm{nd}}$-MM')
ax2.plot(T_GRID, F_S5_MM, color=CYAN, lw=2, ls=dashdot, label=r'Stokes 5$^{\mathrm{th}}$-MM')
ax2.set_xlim(0, 1)
ax2.set_ylim(-15, 15)
ax2.set_xticks(np.arange(0, 1.01, 0.1))
ax2.set_xticklabels(T_LABELS)
ax2.set_yticks([-15, -10, -5, 0, 5, 10, 15])
ax2.set_ylabel(r'$\mathbf{F_{x,max}}$  (Pa)', fontsize=23, labelpad=10)
ax2.set_xlabel('t / T (-)', fontsize=23, fontweight='bold', loc='right', labelpad=8)
leg2 = ax2.legend(loc='upper left', bbox_to_anchor=(0.306, 1.25), borderaxespad=0,
                  fontsize=23, fancybox=False, framealpha=1, edgecolor='black',
                  handlelength=3.0, handletextpad=0.5, borderpad=0.3, labelspacing=0.45)
leg2.get_frame().set_linewidth(2)

for ax in (ax1, ax2):
    ax.grid(True, **GRID)
    ax.tick_params(direction='in', length=6, width=1.5, top=True, right=True, pad=8)
    bold_ticks(ax, 22)
    for sp in ax.spines.values():
        sp.set_linewidth(2)

fig.savefig('out.png', dpi=100, facecolor='white')
